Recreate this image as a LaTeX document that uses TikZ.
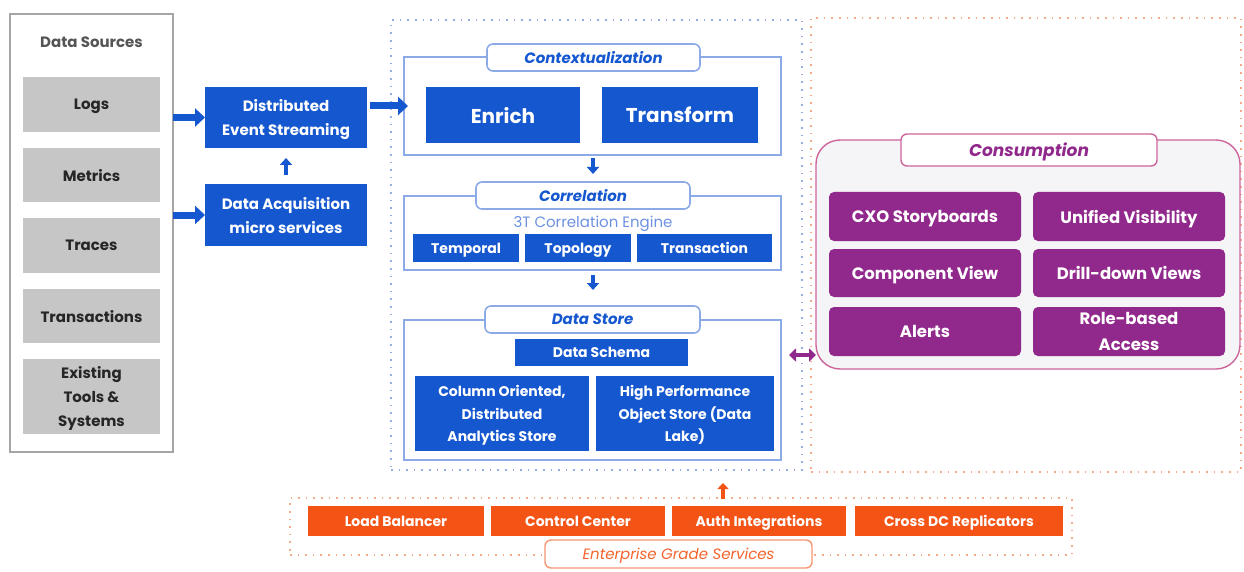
\documentclass[tikz,border=0pt]{standalone}
\usepackage{fontspec}
\setmainfont{Poppins}
\usetikzlibrary{arrows.meta}

\definecolor{srcgray}{RGB}{198,198,198}
\definecolor{srcedge}{RGB}{165,165,165}
\definecolor{srctitle}{RGB}{85,85,85}
\definecolor{corebl}{RGB}{21,87,207}
\definecolor{frameblue}{RGB}{140,170,230}
\definecolor{dotblue}{RGB}{150,175,225}
\definecolor{softblue}{RGB}{110,145,225}
\definecolor{consp}{RGB}{145,40,140}
\definecolor{consedge}{RGB}{205,100,155}
\definecolor{consfill}{RGB}{245,245,247}
\definecolor{entor}{RGB}{243,83,20}
\definecolor{dotor}{RGB}{245,170,140}
\definecolor{pillor}{RGB}{245,150,115}

\newcommand\fsz[1]{\fontsize{#1pt}{1.6\dimexpr#1pt\relax}\selectfont}
% box from corner (x1,y1) to corner (x2,y2)
\newcommand\bx[7]{%
  \pgfmathsetmacro\bxw{#4-#2}\pgfmathsetmacro\bxh{#5-#3}%
  \node[#6,minimum width=\bxw pt,minimum height=\bxh pt] (#1) at ({(#2+#4)/2},{(#3+#5)/2}) {#7};}

\tikzset{
  base/.style={inner sep=0pt,outer sep=0pt,align=center,text depth=0pt,font=\bfseries},
  srcbox/.style={base,fill=srcgray,text=black!85,font=\bfseries\fsz{15}},
  srcframe/.style={base,draw=srcedge,line width=1.6pt,fill=white},
  bluebox/.style={base,fill=corebl,text=white,font=\bfseries\fsz{15}},
  bigblue/.style={base,fill=corebl,text=white,font=\bfseries\fsz{20}},
  blueframe/.style={base,draw=frameblue,line width=1.6pt},
  bluepill/.style={base,draw=frameblue,line width=1.6pt,fill=white,rounded corners=6pt,text=corebl,font=\bfseries\itshape\fsz{15}},
  dotframe/.style={base,line width=1.4pt,dash pattern=on 1.6pt off 6pt},
  purplebox/.style={base,fill=consp,text=white,rounded corners=5pt,font=\bfseries\fsz{16.5}},
  orbox/.style={base,fill=entor,text=white,font=\bfseries\fsz{14}},
  bigarrow/.style={draw=corebl,line width=7pt,-{Triangle[length=10pt,width=18pt]}},
  smallarrow/.style={draw=corebl,line width=4.5pt,-{Triangle[length=7pt,width=12pt]}},
}

\begin{document}
\begin{tikzpicture}[x=1pt,y=-1pt]
\useasboundingbox (0,0) rectangle (1244,572);
\fill[white] (0,0) rectangle (1244,572);

% dotted containers
\bx{core}{391}{20}{802}{470}{dotframe,draw=dotblue}{}
\bx{outer}{811}{18}{1241}{472}{dotframe,draw=dotor}{}
\bx{ent}{290}{498}{1072}{555}{dotframe,draw=dotor}{}

% data sources
\bx{src}{10}{14}{173}{452}{srcframe}{}
\node[base,text=srctitle,font=\bfseries\fsz{15}] (srct) at (91.5,42) {Data Sources};
\bx{logs}{23}{77}{160}{132}{srcbox}{Logs}
\bx{metrics}{23}{148}{160}{202}{srcbox}{Metrics}
\bx{traces}{23}{218}{160}{273}{srcbox}{Traces}
\bx{trans}{23}{289}{160}{343}{srcbox}{Transactions}
\bx{tools}{23}{359}{160}{434}{srcbox}{Existing\\Tools \&\\Systems}

% ingestion
\bx{des}{205}{87}{367}{148}{bluebox}{Distributed\\Event Streaming}
\bx{daq}{205}{184}{367}{246}{bluebox}{Data Acquisition\\micro services}

% contextualization
\bx{ctx}{404}{57}{781}{155}{blueframe}{}
\bx{ctxt}{487}{44}{700}{71}{bluepill}{Contextualization}
\bx{enrich}{426}{87}{580}{143}{bigblue}{Enrich}
\bx{transform}{602}{87}{758}{143}{bigblue}{Transform}

% correlation
\bx{cor}{404}{196}{781}{270}{blueframe}{}
\bx{cort}{476}{182}{690}{209}{bluepill}{Correlation}
\node[base,text=softblue,font=\fsz{15}] (engine) at (593,222) {3T Correlation Engine};
\bx{temporal}{413}{234}{519}{262}{bluebox,font=\bfseries\fsz{14}}{Temporal}
\bx{topology}{525}{234}{631}{262}{bluebox,font=\bfseries\fsz{14}}{Topology}
\bx{transaction}{637}{234}{772}{262}{bluebox,font=\bfseries\fsz{14}}{Transaction}

% data store
\bx{store}{404}{320}{781}{460}{blueframe}{}
\bx{storet}{485}{306}{700}{333}{bluepill}{Data Store}
\bx{schema}{515}{339}{688}{366}{bluebox,font=\bfseries\fsz{14}}{Data Schema}
\bx{column}{415}{376}{589}{451}{bluebox,font=\bfseries\fsz{14}}{Column Oriented,\\Distributed\\Analytics Store}
\bx{object}{596}{376}{774}{451}{bluebox,font=\bfseries\fsz{14}}{High Performance\\Object Store (Data\\Lake)}

% consumption
\bx{cons}{816}{140}{1240}{369}{base,draw=consedge,line width=1.4pt,fill=consfill,rounded corners=24pt}{}
\bx{const}{901}{134}{1157}{166}{base,draw=consedge,line width=1.4pt,fill=white,rounded corners=6pt,text=consp,font=\bfseries\itshape\fsz{17}}{Consumption}
\bx{cxo}{829}{192}{1021}{241}{purplebox}{CXO Storyboards}
\bx{unified}{1033}{192}{1225}{241}{purplebox}{Unified Visibility}
\bx{component}{829}{249}{1021}{297}{purplebox}{Component View}
\bx{drill}{1033}{249}{1225}{297}{purplebox}{Drill-down Views}
\bx{alerts}{829}{307}{1021}{356}{purplebox}{Alerts}
\bx{role}{1033}{307}{1225}{356}{purplebox}{Role-based\\Access}

% enterprise services
\bx{lb}{308}{506}{484}{536}{orbox}{Load Balancer}
\bx{cc}{491}{506}{665}{536}{orbox}{Control Center}
\bx{auth}{672}{506}{846}{536}{orbox}{Auth Integrations}
\bx{xdc}{855}{506}{1063}{536}{orbox}{Cross DC Replicators}
\bx{entt}{545}{540}{812}{568}{base,draw=pillor,line width=1.4pt,fill=white,rounded corners=6pt,text=entor!90,font=\itshape\fsz{15}}{Enterprise Grade Services}

% flow arrows
\draw[bigarrow] (src.east |- des.west) -- (des.west);
\draw[bigarrow] (src.east |- daq.west) -- (daq.west);
\draw[smallarrow] ([yshift=9pt]daq.north) -- ([yshift=-10pt]des.south);
\draw[bigarrow] ([xshift=3pt]des.east |- ctx.west) -- ([xshift=4pt]ctx.west);
\draw[smallarrow] ([yshift=-3pt]ctx.south -| 593,0) -- ([yshift=8pt]cort.north -| 593,0);
\draw[smallarrow] ([yshift=-5pt]cor.south -| 593,0) -- ([yshift=16pt]storet.north -| 593,0);
\coordinate (mx) at (789,355);
\draw[draw=consp,line width=4.5pt,{Triangle[length=7pt,width=13pt]}-{Triangle[length=7pt,width=13pt]}] (mx) -- (mx -| cons.west);
\coordinate (ex) at (723,499);
\draw[draw=entor,line width=4pt,-{Triangle[length=6pt,width=11pt]}] (ex) -- ([yshift=-13pt]core.south -| ex);
\end{tikzpicture}
\end{document}
